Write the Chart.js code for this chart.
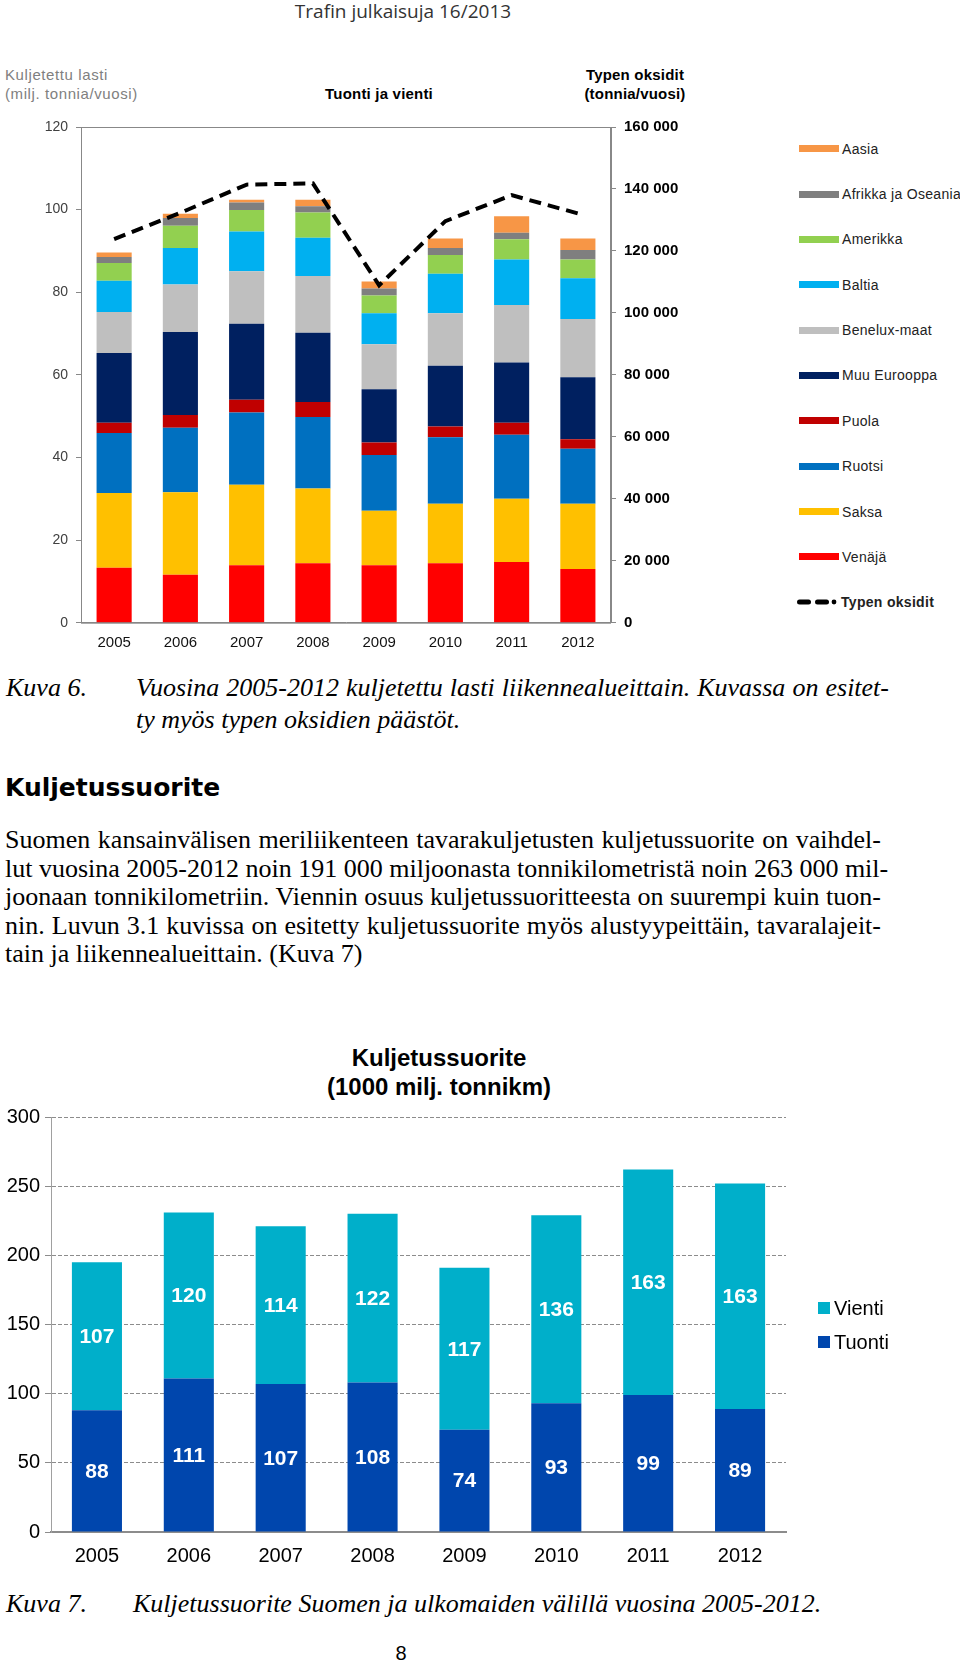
<!DOCTYPE html>
<html>
<head>
<meta charset="utf-8">
<script src="https://cdn.jsdelivr.net/npm/chart.js@4.4.1/dist/chart.umd.min.js"></script>
<style>
  body { margin: 0; width: 960px; height: 1666px; position: relative; background: #fff; overflow: hidden;
         font-family: 'Liberation Sans', Arial, sans-serif; color: #000; }
  .t { position: absolute; white-space: nowrap; }
  .c { transform: translate(-50%, -50%); }
  .m { transform: translateY(-50%); }
  .serif { font-family: 'Liberation Serif', 'Times New Roman', serif; font-size: 26px; }
  .para { position: absolute; left: 5px; width: 876px; font-family: 'Liberation Serif', 'Times New Roman', serif;
          font-size: 26px; line-height: 28.6px; }
  .para span { display: block; text-align: justify; text-align-last: justify; white-space: nowrap; }
  .para span.last { text-align-last: left; }
  canvas { position: absolute; left: 0; }
  .lg { position: absolute; white-space: nowrap; font-size: 14px; letter-spacing: 0.3px; color: #222; }
  .sw { position: absolute; }
  .ax { font-size: 15px; letter-spacing: 0.6px; color: #808080; }
  .axb { font-size: 15px; letter-spacing: 0.2px; font-weight: bold; }
</style>
</head>
<body>

<div class="t c" style="left:403px; top:11px; font-family:'Open Sans',sans-serif; font-size:19px; color:#333;">Trafin julkaisuja 16/2013</div>

<div class="t m ax" style="left:5px; top:74px;">Kuljetettu lasti</div>
<div class="t m ax" style="left:5px; top:93px;">(milj. tonnia/vuosi)</div>
<div class="t c axb" style="left:379px; top:93px;">Tuonti ja vienti</div>
<div class="t c axb" style="left:635px; top:74px;">Typen oksidit</div>
<div class="t c axb" style="left:635px; top:93px;">(tonnia/vuosi)</div>

<canvas id="lasti" width="700" height="560" style="top:110px;"></canvas>
<div id="legend1"></div>

<div class="t m serif" style="left:6px; top:688px; font-style:italic;">Kuva 6.</div>
<div class="para" style="left:136px; width:753px; top:672px; font-style:italic; line-height:32px;">
  <span>Vuosina 2005-2012 kuljetettu lasti liikennealueittain. Kuvassa on esitet-</span>
  <span class="last">ty myös typen oksidien päästöt.</span>
</div>

<div class="t m" style="left:5px; top:787px; font-family:'DejaVu Sans',Verdana,sans-serif; font-weight:bold; font-size:25px;">Kuljetussuorite</div>

<div class="para" style="top:826px;">
  <span>Suomen kansainvälisen meriliikenteen tavarakuljetusten kuljetussuorite on vaihdel-</span>
  <span>lut vuosina 2005-2012 noin 191 000 miljoonasta tonnikilometristä noin 263 000 mil-</span>
  <span>joonaan tonnikilometriin. Viennin osuus kuljetussuoritteesta on suurempi kuin tuon-</span>
  <span>nin. Luvun 3.1 kuvissa on esitetty kuljetussuorite myös alustyypeittäin, tavaralajeit-</span>
  <span class="last">tain ja liikennealueittain. (Kuva 7)</span>
</div>

<div class="t c" style="left:439px; top:1058px; font-size:24px; font-weight:bold;">Kuljetussuorite</div>
<div class="t c" style="left:439px; top:1087px; font-size:24px; font-weight:bold;">(1000 milj. tonnikm)</div>

<canvas id="suorite" width="960" height="480" style="top:1100px;"></canvas>
<div id="legend2"></div>

<div class="t m serif" style="left:6px; top:1604px; font-style:italic;">Kuva 7.</div>
<div class="t m serif" style="left:133px; top:1604px; font-style:italic;">Kuljetussuorite Suomen ja ulkomaiden välillä vuosina 2005-2012.</div>

<div class="t c" style="left:401px; top:1653px; font-size:20px;">8</div>

<script>
const years = ['2005', '2006', '2007', '2008', '2009', '2010', '2011', '2012'];

// kuljetettu lasti, milj. tonnia (alhaalta ylös)
const venaja      = [13.3, 11.6, 13.9, 14.4, 13.9, 14.4, 14.7, 13.0];
const saksa       = [18.1, 20.0, 19.5, 18.1, 13.2, 14.4, 15.3, 15.8];
const ruotsi      = [14.5, 15.6, 17.5, 17.3, 13.5, 16.1, 15.5, 13.3];
const puola       = [2.5, 3.1, 3.1, 3.6, 3.0, 2.6, 2.9, 2.3];
const muuEurooppa = [16.9, 20.1, 18.4, 16.8, 12.9, 14.7, 14.6, 15.0];
const benelux     = [9.9, 11.5, 12.7, 13.7, 10.9, 12.7, 13.9, 14.1];
const baltia      = [7.6, 8.8, 9.6, 9.3, 7.5, 9.6, 11.0, 9.9];
const amerikka    = [4.3, 5.4, 5.2, 6.1, 4.3, 4.5, 4.9, 4.5];
const afrikka     = [1.4, 1.9, 1.8, 1.5, 1.7, 1.7, 1.6, 2.3];
const aasia       = [1.1, 1.0, 0.7, 1.6, 1.7, 2.3, 4.0, 2.8];

// typen oksidit, tonnia/vuosi
const typenOksidit = [123800, 132300, 141400, 141800, 108900, 129600, 138000, 132100];

const leftTicks = [0, 20, 40, 60, 80, 100, 120];
const rightTicks = [0, 20000, 40000, 60000, 80000, 100000, 120000, 140000, 160000];

// kuljetussuorite, 1000 milj. tonnikm
const tuonti = [88, 111, 107, 108, 74, 93, 99, 89];
const vienti = [107, 120, 114, 122, 117, 136, 163, 163];
const suoriteTicks = [0, 50, 100, 150, 200, 250, 300];

Chart.defaults.font.family = "'Liberation Sans', Arial, sans-serif";

const regions = [
  { label: 'Venäjä', data: venaja, color: '#FF0000' },
  { label: 'Saksa', data: saksa, color: '#FFC000' },
  { label: 'Ruotsi', data: ruotsi, color: '#0070C0' },
  { label: 'Puola', data: puola, color: '#C00000' },
  { label: 'Muu Eurooppa', data: muuEurooppa, color: '#002060' },
  { label: 'Benelux-maat', data: benelux, color: '#BFBFBF' },
  { label: 'Baltia', data: baltia, color: '#00B0F0' },
  { label: 'Amerikka', data: amerikka, color: '#92D050' },
  { label: 'Afrikka ja Oseania', data: afrikka, color: '#7F7F7F' },
  { label: 'Aasia', data: aasia, color: '#F79646' }
];

const fmtSpace = v => String(v).replace(/\B(?=(\d{3})+(?!\d))/g, ' ');

const plotFrame = {
  id: 'plotFrame',
  beforeDatasetsDraw(chart) {
    const a = chart.chartArea, ctx = chart.ctx;
    ctx.save();
    ctx.strokeStyle = '#888';
    ctx.lineWidth = 1;
    ctx.strokeRect(a.left + 0.5, a.top + 0.5, a.right - a.left - 1, a.bottom - a.top);
    ctx.restore();
  }
};

new Chart(document.getElementById('lasti'), {
  type: 'bar',
  data: {
    labels: years,
    datasets: [
      {
        type: 'line',
        label: 'Typen oksidit',
        data: typenOksidit,
        yAxisID: 'y2',
        borderColor: '#000',
        borderWidth: 4,
        borderDash: [12, 7],
        pointRadius: 0,
        fill: false,
        tension: 0
      },
      ...regions.map(r => ({
        label: r.label,
        data: r.data,
        backgroundColor: r.color,
        borderWidth: 0,
        barPercentage: 0.53,
        categoryPercentage: 1
      }))
    ]
  },
  options: {
    responsive: false,
    animation: false,
    layout: { padding: { top: 16.4, bottom: 17.3, left: 0, right: 0 } },
    plugins: { legend: { display: false }, tooltip: { enabled: false } },
    scales: {
      x: {
        stacked: true,
        grid: { display: false, drawTicks: false },
        border: { color: '#888' },
        ticks: { color: '#111', font: { size: 15 }, padding: 11 },
        afterFit: s => { s.height = 30; }
      },
      y: {
        stacked: true,
        position: 'left',
        min: 0,
        max: 120,
        afterBuildTicks: s => { s.ticks = leftTicks.map(v => ({ value: v })); },
        ticks: { color: '#404040', font: { size: 14 }, padding: 8 },
        grid: { drawOnChartArea: false, tickLength: 5, color: '#888' },
        border: { color: '#888' },
        afterFit: s => { s.width = 81; }
      },
      y2: {
        position: 'right',
        min: 0,
        max: 160000,
        afterBuildTicks: s => { s.ticks = rightTicks.map(v => ({ value: v })); },
        ticks: { color: '#000', font: { size: 15, weight: 'bold' }, padding: 8, callback: v => fmtSpace(v) },
        grid: { drawOnChartArea: false, tickLength: 5, color: '#888' },
        border: { color: '#888' },
        afterFit: s => { s.width = 89; }
      }
    }
  },
  plugins: [plotFrame]
});

// legend 1 (Aasia ylimpänä)
const lg1 = document.getElementById('legend1');
regions.slice().reverse().forEach((r, i) => {
  const cy = 148.7 + i * 45.35;
  lg1.insertAdjacentHTML('beforeend',
    `<div class="sw" style="left:799px; top:${cy - 3.5}px; width:40px; height:7px; background:${r.color};"></div>` +
    `<div class="lg" style="left:842px; top:${cy}px; transform:translateY(-50%);">${r.label}</div>`);
});
{
  const cy = 148.7 + 10 * 45.35;
  lg1.insertAdjacentHTML('beforeend',
    `<svg class="sw" style="left:796px; top:${cy - 4}px;" width="44" height="8">` +
    `<rect x="1" y="1.5" width="14" height="5" rx="2.5" fill="#000"/>` +
    `<rect x="19" y="1.5" width="14" height="5" rx="2.5" fill="#000"/>` +
    `<circle cx="38" cy="4" r="2.4" fill="#000"/></svg>` +
    `<div class="lg" style="left:841px; top:${cy}px; transform:translateY(-50%); font-weight:bold;">Typen oksidit</div>`);
}

// chart 2
const suoriteSeries = [
  { label: 'Tuonti', data: tuonti, color: '#0046AD' },
  { label: 'Vienti', data: vienti, color: '#00AFCA' }
];

const barLabels = {
  id: 'barLabels',
  afterDatasetsDraw(chart) {
    const ctx = chart.ctx;
    ctx.save();
    ctx.fillStyle = '#fff';
    ctx.font = "bold 21px 'Liberation Sans', Arial, sans-serif";
    ctx.textAlign = 'center';
    ctx.textBaseline = 'middle';
    chart.data.datasets.forEach((ds, i) => {
      chart.getDatasetMeta(i).data.forEach((bar, j) => {
        const p = bar.getProps(['x', 'y', 'base'], true);
        ctx.fillText(String(ds.data[j]), p.x, (p.y + p.base) / 2 + 1);
      });
    });
    ctx.restore();
  }
};

new Chart(document.getElementById('suorite'), {
  type: 'bar',
  data: {
    labels: years,
    datasets: suoriteSeries.map(s => ({
      label: s.label,
      data: s.data,
      backgroundColor: s.color,
      borderWidth: 0,
      barPercentage: 0.545,
      categoryPercentage: 1
    }))
  },
  options: {
    responsive: false,
    animation: false,
    layout: { padding: { top: 16, bottom: 8, left: 0, right: 174 } },
    plugins: { legend: { display: false }, tooltip: { enabled: false } },
    scales: {
      x: {
        stacked: true,
        grid: { display: false, drawTicks: false },
        border: { color: '#8c8c8c', width: 2 },
        ticks: { color: '#000', font: { size: 20 }, padding: 12 },
        afterFit: s => { s.height = 40; }
      },
      y: {
        stacked: true,
        min: 0,
        max: 300,
        afterBuildTicks: s => { s.ticks = suoriteTicks.map(v => ({ value: v })); },
        ticks: { color: '#000', font: { size: 20 }, padding: 5 },
        grid: { color: '#8c8c8c', lineWidth: 1, tickLength: 6 },
        border: { color: '#a0a0a0', dash: [4, 2] },
        afterFit: s => { s.width = 51; }
      }
    }
  },
  plugins: [barLabels]
});

const lg2 = document.getElementById('legend2');
suoriteSeries.slice().reverse().forEach((s, i) => {
  const cy = 1308 + i * 34;
  lg2.insertAdjacentHTML('beforeend',
    `<div class="sw" style="left:818px; top:${cy - 6}px; width:12px; height:12px; background:${s.color};"></div>` +
    `<div class="lg" style="left:834px; top:${cy}px; transform:translateY(-50%); font-size:20px; letter-spacing:0; color:#000;">${s.label}</div>`);
});
</script>
</body>
</html>
